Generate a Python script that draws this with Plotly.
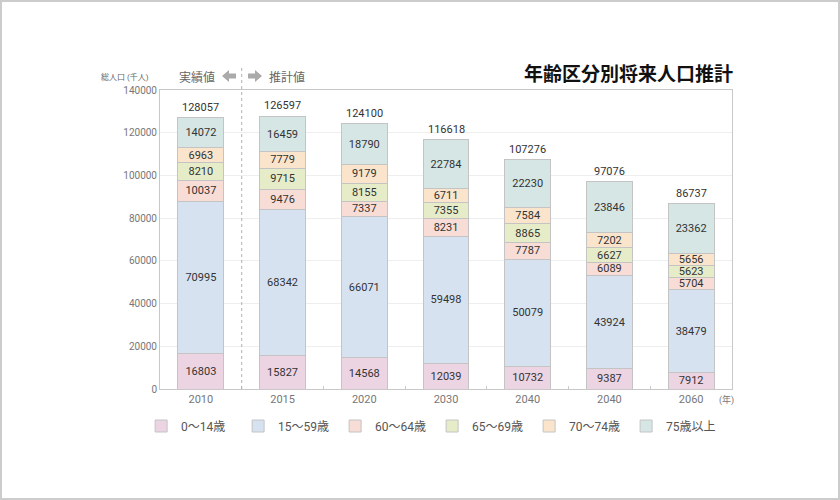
import plotly.graph_objects as go

years = ["2010", "2015", "2020", "2030", "2040", "2040", "2060"]
groups = ["0～14歳", "15～59歳", "60～64歳", "65～69歳", "70～74歳", "75歳以上"]
age_0_14 = [16803, 15827, 14568, 12039, 10732, 9387, 7912]
age_15_59 = [70995, 68342, 66071, 59498, 50079, 43924, 38479]
age_60_64 = [10037, 9476, 7337, 8231, 7787, 6089, 5704]
age_65_69 = [8210, 9715, 8155, 7355, 8865, 6627, 5623]
age_70_74 = [6963, 7779, 9179, 6711, 7584, 7202, 5656]
age_75_up = [14072, 16459, 18790, 22784, 22230, 23846, 23362]
totals = [128057, 126597, 124100, 116618, 107276, 97076, 86737]
y_ticks = [0, 20000, 40000, 60000, 80000, 100000, 120000, 140000]

series = [age_0_14, age_15_59, age_60_64, age_65_69, age_70_74, age_75_up]
colors = ["#ecd4e3", "#d7e2f0", "#f7ddd5", "#e6ecc8", "#fae5cc", "#d5e6e5"]

FONT = "Roboto, Noto Sans CJK JP, sans-serif"
xs = list(range(len(years)))

fig = go.Figure()
for name, vals, col in zip(groups, series, colors):
    fig.add_trace(go.Bar(
        x=xs, y=vals, name=name,
        marker=dict(color=col, line=dict(color="#c4c4c4", width=1)),
        text=[str(v) for v in vals], textposition="inside",
        insidetextanchor="middle", textangle=0,
        textfont=dict(family=FONT, size=11, color="#333333"),
        width=0.56,
    ))

stack_tops = [sum(s[i] for s in series) for i in range(len(years))]
for i, (top, tot) in enumerate(zip(stack_tops, totals)):
    fig.add_annotation(x=xs[i], y=top, text=str(tot), showarrow=False,
                       yanchor="bottom", yshift=2,
                       font=dict(family=FONT, size=11, color="#333333"))

W, H = 840, 500
L, R, T, B = 160, 732, 90, 389
def px(xp):
    return (xp - L) / (R - L)
def py(yp):
    return (B - yp) / (B - T)

shapes = []
shapes.append(dict(type="rect", xref="paper", yref="paper",
                   x0=px(1), x1=px(839), y0=py(499), y1=py(1),
                   line=dict(color="#cccccc", width=2), layer="below"))
shapes.append(dict(type="line", xref="x", yref="paper", x0=0.5, x1=0.5,
                   y0=0, y1=py(68), line=dict(color="#b0b0b0", width=1, dash="dot")))
ay = 76
def larrow(tip, tail):
    m = tip + 7
    return (f"M {px(tip)} {py(ay)} L {px(m)} {py(ay-6)} L {px(m)} {py(ay-2.5)} "
            f"L {px(tail)} {py(ay-2.5)} L {px(tail)} {py(ay+2.5)} L {px(m)} {py(ay+2.5)} "
            f"L {px(m)} {py(ay+6)} Z")
def rarrow(tip, tail):
    m = tip - 7
    return (f"M {px(tip)} {py(ay)} L {px(m)} {py(ay-6)} L {px(m)} {py(ay-2.5)} "
            f"L {px(tail)} {py(ay-2.5)} L {px(tail)} {py(ay+2.5)} L {px(m)} {py(ay+2.5)} "
            f"L {px(m)} {py(ay+6)} Z")
shapes.append(dict(type="path", xref="paper", yref="paper", path=larrow(222, 236),
                   fillcolor="#aaaaaa", line=dict(width=0)))
shapes.append(dict(type="path", xref="paper", yref="paper", path=rarrow(262, 248),
                   fillcolor="#aaaaaa", line=dict(width=0)))

fig.add_annotation(xref="paper", yref="paper", x=px(217), y=py(77), text="実績値",
                   showarrow=False, xanchor="right", yanchor="middle",
                   font=dict(family=FONT, size=12, color="#666666"))
fig.add_annotation(xref="paper", yref="paper", x=px(267), y=py(77), text="推計値",
                   showarrow=False, xanchor="left", yanchor="middle",
                   font=dict(family=FONT, size=12, color="#666666"))
fig.add_annotation(xref="paper", yref="paper", x=px(151), y=py(77), text="総人口 (千人)",
                   showarrow=False, xanchor="right", yanchor="middle",
                   font=dict(family=FONT, size=8, color="#666666"))
fig.add_annotation(xref="paper", yref="paper", x=px(735), y=py(74), text="<b>年齢区分別将来人口推計</b>",
                   showarrow=False, xanchor="right", yanchor="middle",
                   font=dict(family=FONT, size=19, color="#111111"))
fig.add_annotation(xref="paper", yref="paper", x=px(736), y=py(400), text="(年)",
                   showarrow=False, xanchor="right", yanchor="middle",
                   font=dict(family=FONT, size=9, color="#777777"))

fig.update_layout(
    width=W, height=H, barmode="stack",
    margin=dict(l=L, r=W - R, t=T, b=H - B),
    paper_bgcolor="white", plot_bgcolor="white",
    font=dict(family=FONT, color="#777777"),
    uniformtext=dict(minsize=11, mode="show"),
    shapes=shapes,
    showlegend=True,
    legend=dict(orientation="h", x=-0.033, xanchor="left", y=py(426), yanchor="middle",
                traceorder="normal", entrywidth=52, entrywidthmode="pixels", itemwidth=30,
                font=dict(family=FONT, size=12, color="#555555"), itemclick=False),
)
fig.update_xaxes(tickvals=xs, ticktext=years, range=[-0.5, 6.5],
                 showline=True, linecolor="#c8c8c8", mirror=True, linewidth=1,
                 ticks="", tickfont=dict(size=11, color="#777777"),
                 minor=dict(tickvals=[i + 0.5 for i in xs[:-1]], ticks="inside",
                            ticklen=3, tickcolor="#cccccc", showgrid=False))
fig.update_yaxes(tickvals=y_ticks, ticktext=[str(v) for v in y_ticks], range=[0, 140000],
                 showgrid=True, gridcolor="#eeeeee",
                 showline=True, linecolor="#c8c8c8", mirror=True, linewidth=1,
                 ticks="", tickfont=dict(size=10, color="#777777"), zeroline=False)

fig.write_html("out.html", config={"displayModeBar": False},
               post_script="document.body.style.margin='0';")
